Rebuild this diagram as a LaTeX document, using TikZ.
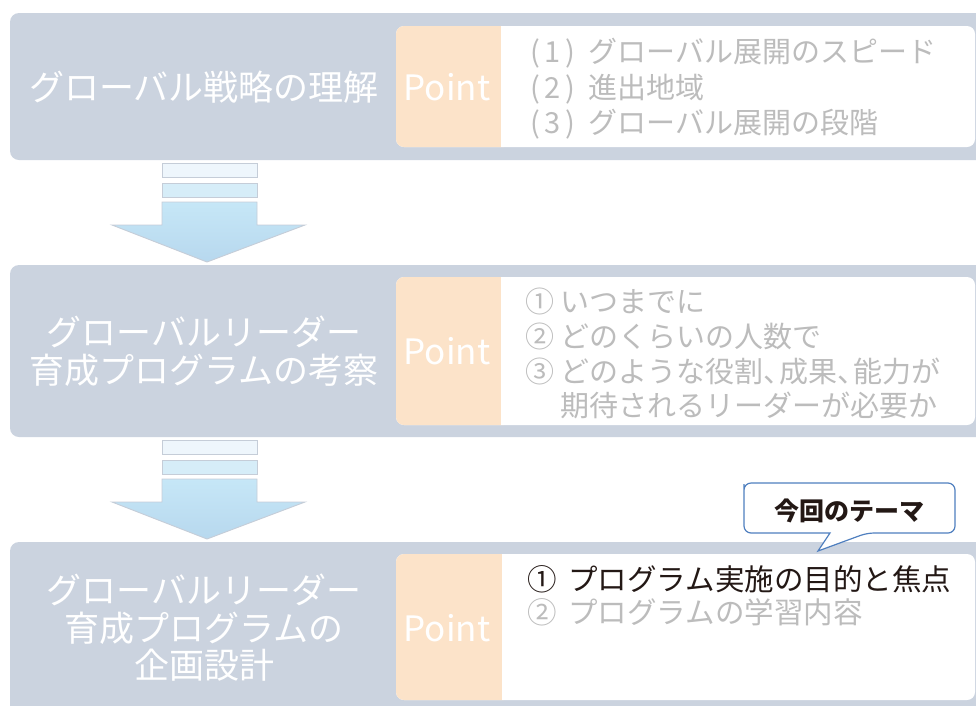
\documentclass[tikz,border=0pt]{standalone}
\usepackage{fontspec}
\setmainfont{Noto Sans CJK JP}
\definecolor{outergrey}{HTML}{CBD3DF}
\definecolor{pointor}{HTML}{FCE3C9}
\definecolor{greytext}{HTML}{BCBCBC}
\definecolor{barone}{HTML}{EEF6FC}
\definecolor{bartwo}{HTML}{D6EDF8}
\definecolor{bodytop}{HTML}{C6E7F7}
\definecolor{bodybot}{HTML}{B7D8EE}
\definecolor{arrowedge}{HTML}{C5CDD8}
\definecolor{callblue}{HTML}{4F7FBF}
\definecolor{darktext}{HTML}{231815}
\newcommand{\tenc}{、\kern-0.45em}
\newcommand{\pnum}[1]{(\,#1\,)\hspace{0.45em}}
\begin{document}
\begin{tikzpicture}[x=1pt,y=-1pt,
  outerbox/.style={fill=outergrey, rounded corners=9pt},
  whitebox/.style={fill=white, rounded corners=8pt},
  pointbox/.style={fill=pointor, rounded corners=8pt},
  titletext/.style={text=white, align=center, font=\fontsize{35}{37.5}\selectfont, inner sep=0pt},
  pointtext/.style={text=white, font=\fontsize{35}{40}\selectfont, inner sep=0pt},
  listtext/.style={text=greytext, align=left, anchor=north west, inner sep=0pt},
  bar/.style={draw=arrowedge, line width=0.9pt},
  arrowbody/.style={draw=arrowedge, line width=0.9pt, top color=bodytop, bottom color=bodybot},
  callout/.style={draw=callblue, fill=white, line width=1.2pt}
]
\useasboundingbox (0,0) rectangle (976,705);
\clip (0,0) rectangle (976,705);

% ---------- Box 1 ----------
\fill[outerbox] (10,13) rectangle (995,160);
\fill[whitebox] (396,26) rectangle (975,147);
\fill[pointbox] (396,26) rectangle (512,147);
\fill[white] (501,26) rectangle (520,147);
\node[titletext] (t1) at (204,87) {グローバル戦略の理解};
\node[pointtext] (p1) at (447,87) {Point};
\node[listtext, font=\fontsize{29}{35.5}\selectfont] (l1) at (530,38)
  {\pnum{1}グローバル展開のスピード\\\pnum{2}進出地域\\\pnum{3}グローバル展開の段階};

% ---------- Arrow 1 ----------
\fill[bar, fill=barone] (162,163) rectangle (257,177);
\fill[bar, fill=bartwo] (162,183) rectangle (257,197);
\path[arrowbody] (162,202) -- (257,202) -- (257,225) -- (305,225) -- (207,262) -- (112,225) -- (162,225) -- cycle;

% ---------- Box 2 ----------
\fill[outerbox] (10,265) rectangle (995,437);
\fill[whitebox] (396,277) rectangle (975,425);
\fill[pointbox] (396,277) rectangle (512,425);
\fill[white] (501,277) rectangle (520,425);
\node[titletext] (t2) at (204,351) {グローバルリーダー\\育成プログラムの考察};
\node[pointtext] (p2) at (447,351) {Point};
\node[listtext, font=\fontsize{29}{34.7}\selectfont] (l2) at (525,288)
  {① いつまでに\\② どのくらいの人数で\\③ どのような役割\tenc 成果\tenc 能力が\\\phantom{③ }期待されるリーダーが必要か};

% ---------- Arrow 2 ----------
\fill[bar, fill=barone] (162,440) rectangle (257,454);
\fill[bar, fill=bartwo] (162,460) rectangle (257,474);
\path[arrowbody] (162,479) -- (257,479) -- (257,502) -- (305,502) -- (207,539) -- (112,502) -- (162,502) -- cycle;

% ---------- Box 3 ----------
\fill[outerbox] (10,542) rectangle (995,720);
\fill[whitebox] (396,554) rectangle (975,700);
\fill[pointbox] (396,554) rectangle (512,700);
\fill[white] (502,554) rectangle (520,700);
\node[titletext] (t3) at (204,628) {グローバルリーダー\\育成プログラムの\\企画設計};
\node[pointtext] (p3) at (447,628) {Point};
\node[listtext, text=darktext, font=\fontsize{29.5}{33}\selectfont] (l3a) at (527,565)
  {①\hspace{0.4em}プログラム実施の目的と焦点};
\node[listtext, font=\fontsize{29.5}{33}\selectfont] (l3b) at (527,598)
  {②\hspace{0.4em}プログラムの学習内容};

% ---------- Callout ----------
\path[callout] (744,491) [rounded corners=7pt] -- (744,483) -- (955,483) -- (955,533) -- (867,533) [sharp corners] -- (818,551) -- (830,533) [rounded corners=7pt] -- (744,533) -- cycle;
\node[font=\fontsize{25}{28}\selectfont\bfseries, text=darktext, inner sep=0pt] (c1) at (849,511) {今回のテーマ};
\end{tikzpicture}
\end{document}
